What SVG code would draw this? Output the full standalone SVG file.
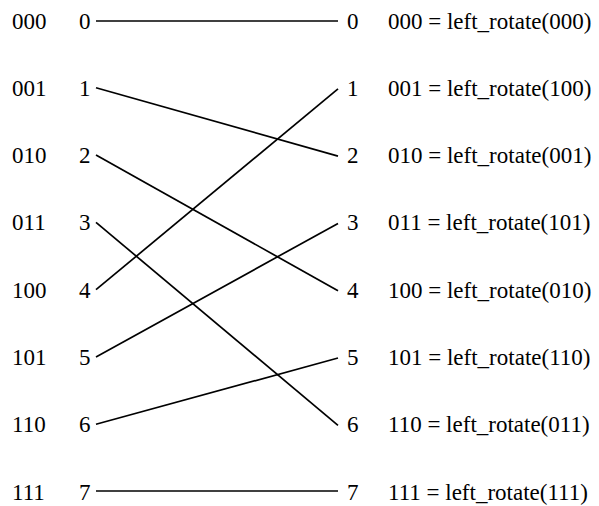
<svg xmlns="http://www.w3.org/2000/svg" width="599" height="506" viewBox="0 0 599 506">
<style>
text{font-family:'Liberation Serif','DejaVu Serif',serif;font-size:23px;fill:#000}
.c line{stroke:#000;stroke-width:1.7;fill:none}
</style>
<rect width="599" height="506" fill="#fff"/>
<g id="left">
<g id="L0"><text x="12" y="28.5">000</text><text x="79" y="28.5">0</text></g>
<g id="L1"><text x="12" y="95.8">001</text><text x="79" y="95.8">1</text></g>
<g id="L2"><text x="12" y="163.1">010</text><text x="79" y="163.1">2</text></g>
<g id="L3"><text x="12" y="230.4">011</text><text x="79" y="230.4">3</text></g>
<g id="L4"><text x="12" y="297.7">100</text><text x="79" y="297.7">4</text></g>
<g id="L5"><text x="12" y="365">101</text><text x="79" y="365">5</text></g>
<g id="L6"><text x="12" y="432.3">110</text><text x="79" y="432.3">6</text></g>
<g id="L7"><text x="12" y="499.6">111</text><text x="79" y="499.6">7</text></g>
</g>
<g id="right">
<g id="R0"><text x="347" y="28.5">0</text><text x="388" y="28.5">000 = left_rotate(000)</text></g>
<g id="R1"><text x="347" y="95.8">1</text><text x="388" y="95.8">001 = left_rotate(100)</text></g>
<g id="R2"><text x="347" y="163.1">2</text><text x="388" y="163.1">010 = left_rotate(001)</text></g>
<g id="R3"><text x="347" y="230.4">3</text><text x="388" y="230.4">011 = left_rotate(101)</text></g>
<g id="R4"><text x="347" y="297.7">4</text><text x="388" y="297.7">100 = left_rotate(010)</text></g>
<g id="R5"><text x="347" y="365">5</text><text x="388" y="365">101 = left_rotate(110)</text></g>
<g id="R6"><text x="347" y="432.3">6</text><text x="388" y="432.3">110 = left_rotate(011)</text></g>
<g id="R7"><text x="347" y="499.6">7</text><text x="388" y="499.6">111 = left_rotate(111)</text></g>
</g>
<g id="connectors" class="c">
<line x1="96" y1="21" x2="338" y2="21"/>
<line x1="96" y1="87.8" x2="338" y2="156.1"/>
<line x1="96" y1="155.1" x2="338" y2="290.7"/>
<line x1="96" y1="222.4" x2="338" y2="425.3"/>
<line x1="96" y1="289.7" x2="338" y2="88.8"/>
<line x1="96" y1="357" x2="338" y2="223.4"/>
<line x1="96" y1="424.3" x2="338" y2="358"/>
<line x1="96" y1="491" x2="338" y2="491"/>
</g>
</svg>
